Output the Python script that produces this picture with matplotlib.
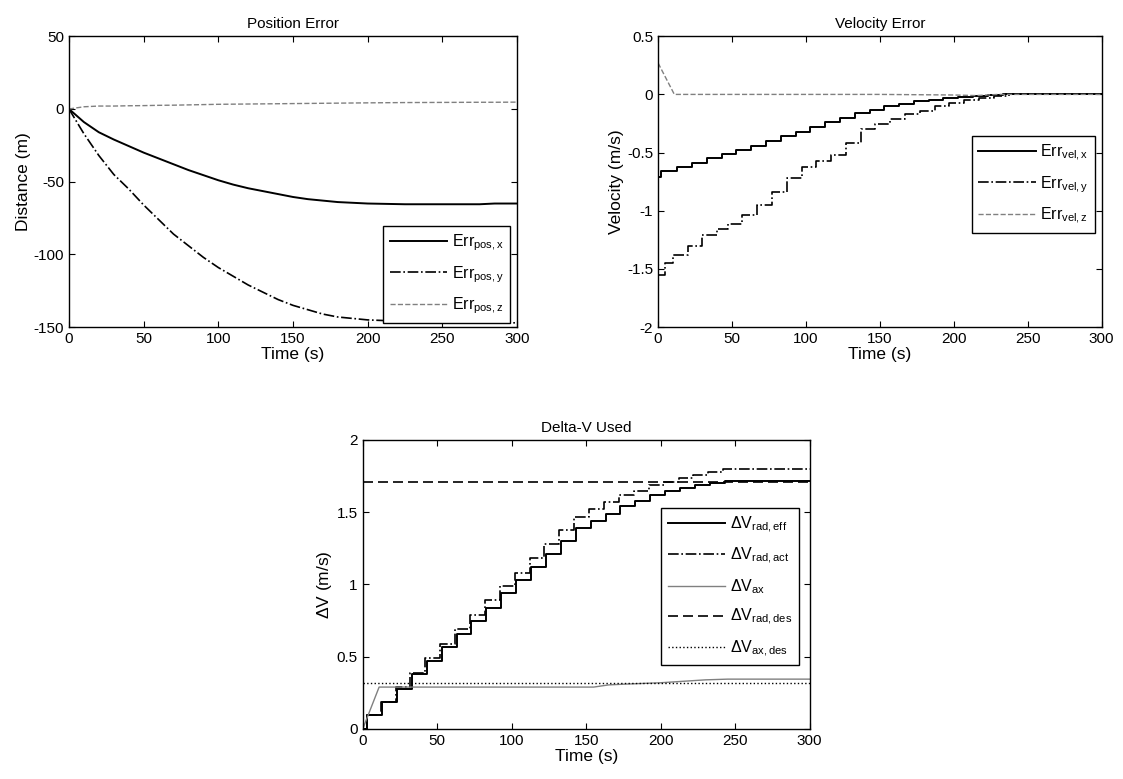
import numpy as np
import matplotlib
matplotlib.use('Agg')
import matplotlib.pyplot as plt

plt.rcParams['font.family'] = ['Liberation Sans', 'DejaVu Sans']
plt.rcParams['mathtext.fontset'] = 'custom'
plt.rcParams['mathtext.rm'] = 'Liberation Sans'
plt.rcParams['mathtext.it'] = 'Liberation Sans'
plt.rcParams['axes.unicode_minus'] = False
plt.rcParams['xtick.direction'] = 'in'
plt.rcParams['ytick.direction'] = 'in'
plt.rcParams['xtick.top'] = True
plt.rcParams['ytick.right'] = True

# Position error
t_pos = [0, 10, 20, 30, 40, 50, 60, 70, 80, 90, 100, 110, 120, 130, 140, 150,
         160, 170, 180, 190, 200, 225, 250, 275, 285, 300]
pos_x = [0, -9, -16, -21, -25.5, -30, -34, -38, -42, -45.5, -49, -52, -54.5, -56.5,
         -58.5, -60.5, -62, -63, -64, -64.5, -65, -65.5, -65.5, -65.5, -65, -65]
pos_y = [0, -17, -32, -45, -55, -66, -76, -86, -94, -102, -109, -115, -121, -126,
         -131, -135, -138, -141, -143, -144, -145, -146, -146.5, -147, -147, -147]
pos_z = [0, 1.5, 2, 2, 2.2, 2.3, 2.5, 2.6, 2.8, 3, 3.2, 3.3, 3.4, 3.5, 3.6, 3.7,
         3.8, 3.9, 4, 4.1, 4.2, 4.4, 4.5, 4.6, 4.6, 4.7]

# Velocity error (stepwise)
t_vx = [0, 2, 13, 23, 33, 43, 53, 63, 73, 83, 93, 103, 113, 123, 133, 143, 153,
        163, 173, 183, 193, 203, 213, 223, 233, 300]
vel_x = [-0.71, -0.66, -0.62, -0.59, -0.55, -0.51, -0.48, -0.44, -0.40, -0.36, -0.32,
         -0.28, -0.24, -0.20, -0.16, -0.13, -0.10, -0.08, -0.06, -0.045, -0.035,
         -0.025, -0.015, -0.008, 0, 0]
t_vy = [0, 5, 10, 20, 30, 40, 47, 57, 67, 77, 87, 97, 107, 117, 127, 137, 147, 157,
        167, 177, 187, 197, 207, 217, 227, 237, 300]
vel_y = [-1.55, -1.45, -1.38, -1.30, -1.21, -1.16, -1.11, -1.04, -0.95, -0.84, -0.72,
         -0.62, -0.57, -0.52, -0.42, -0.30, -0.25, -0.21, -0.17, -0.14, -0.10, -0.07,
         -0.05, -0.03, -0.01, 0, 0]
t_vz = [0, 11, 50, 100, 150, 200, 215, 230, 300]
vel_z = [0.27, 0, 0, 0, 0, -0.005, -0.01, 0, 0]

# Delta-V used
t_eff = [0, 3, 13, 23, 33, 43, 53, 63, 73, 83, 93, 103, 113, 123, 133, 143, 153, 163,
         173, 183, 193, 203, 213, 223, 233, 243, 300]
dv_eff = [0, 0.1, 0.19, 0.28, 0.38, 0.47, 0.57, 0.66, 0.75, 0.84, 0.94, 1.03, 1.12,
          1.21, 1.30, 1.39, 1.44, 1.49, 1.54, 1.58, 1.62, 1.645, 1.67, 1.69, 1.705,
          1.715, 1.715]
t_act = [0, 3, 12, 22, 32, 42, 52, 62, 72, 82, 92, 102, 112, 122, 132, 142, 152, 162,
         172, 182, 192, 202, 212, 222, 232, 242, 300]
dv_act = [0, 0.1, 0.19, 0.29, 0.39, 0.49, 0.59, 0.69, 0.79, 0.89, 0.99, 1.08, 1.18,
          1.28, 1.38, 1.47, 1.52, 1.57, 1.62, 1.65, 1.69, 1.71, 1.735, 1.76, 1.78,
          1.8, 1.8]
t_ax = [0, 11, 50, 100, 155, 165, 175, 200, 215, 230, 245, 300]
dv_ax = [0, 0.29, 0.29, 0.29, 0.29, 0.305, 0.31, 0.32, 0.33, 0.34, 0.345, 0.345]
t_des = [0, 300]
dv_rad_des = [1.71, 1.71]
dv_ax_des = [0.315, 0.315]

fig = plt.figure(figsize=(11.23, 7.79), dpi=100)
ax1 = fig.add_axes([0.0614, 0.580, 0.399, 0.3735])
ax2 = fig.add_axes([0.586, 0.580, 0.395, 0.3735])
ax3 = fig.add_axes([0.323, 0.0642, 0.398, 0.371])

tick_fs = 11
lab_fs = 12.5
leg_fs = 11.5
leg_kw = dict(fontsize=leg_fs, handlelength=3.6, labelspacing=0.7, fancybox=False,
              edgecolor='k', framealpha=1, borderaxespad=0, handletextpad=0.3)

ax1.plot(t_pos, pos_x, 'k-', lw=1.4, label=r'Err$_{\mathrm{pos,x}}$')
ax1.plot(t_pos, pos_y, 'k-.', lw=1.2, label=r'Err$_{\mathrm{pos,y}}$')
ax1.plot(t_pos, pos_z, '--', color='#808080', lw=1.0, label=r'Err$_{\mathrm{pos,z}}$')
ax1.set_xlim(0, 300)
ax1.set_ylim(-150, 50)
ax1.set_xticks(np.arange(0, 301, 50))
ax1.set_yticks(np.arange(-150, 51, 50))
ax1.set_title('Position Error', fontsize=tick_fs)
ax1.set_xlabel('Time (s)', fontsize=lab_fs, labelpad=1)
ax1.set_ylabel('Distance (m)', fontsize=lab_fs, labelpad=2)
ax1.legend(loc='lower right', bbox_to_anchor=(0.985, 0.015), **leg_kw)

ax2.plot(t_vx, vel_x, 'k-', lw=1.4, drawstyle='steps-post', label=r'Err$_{\mathrm{vel,x}}$')
ax2.plot(t_vy, vel_y, 'k-.', lw=1.2, drawstyle='steps-post', label=r'Err$_{\mathrm{vel,y}}$')
ax2.plot(t_vz, vel_z, '--', color='#808080', lw=1.0, label=r'Err$_{\mathrm{vel,z}}$')
ax2.set_xlim(0, 300)
ax2.set_ylim(-2, 0.5)
ax2.set_xticks(np.arange(0, 301, 50))
ax2.set_yticks([-2, -1.5, -1, -0.5, 0, 0.5])
ax2.set_yticklabels(['-2', '-1.5', '-1', '-0.5', '0', '0.5'])
ax2.set_title('Velocity Error', fontsize=tick_fs)
ax2.set_xlabel('Time (s)', fontsize=lab_fs, labelpad=1)
ax2.set_ylabel('Velocity (m/s)', fontsize=lab_fs, labelpad=2)
ax2.legend(loc='upper right', bbox_to_anchor=(0.985, 0.656), **leg_kw)

ax3.plot(t_eff, dv_eff, 'k-', lw=1.4, drawstyle='steps-post', label=r'$\Delta$V$_{\mathrm{rad,eff}}$')
ax3.plot(t_act, dv_act, 'k-.', lw=1.2, drawstyle='steps-post', label=r'$\Delta$V$_{\mathrm{rad,act}}$')
ax3.plot(t_ax, dv_ax, '-', color='#808080', lw=1.0, label=r'$\Delta$V$_{\mathrm{ax}}$')
ax3.plot(t_des, dv_rad_des, 'k--', lw=1.2, dashes=(6, 3), label=r'$\Delta$V$_{\mathrm{rad,des}}$')
ax3.plot(t_des, dv_ax_des, 'k:', lw=1.0, label=r'$\Delta$V$_{\mathrm{ax,des}}$')
ax3.set_xlim(0, 300)
ax3.set_ylim(0, 2)
ax3.set_xticks(np.arange(0, 301, 50))
ax3.set_yticks([0, 0.5, 1, 1.5, 2])
ax3.set_yticklabels(['0', '0.5', '1', '1.5', '2'])
ax3.set_title('Delta-V Used', fontsize=tick_fs)
ax3.set_xlabel('Time (s)', fontsize=lab_fs, labelpad=1)
ax3.set_ylabel(r'$\Delta$V (m/s)', fontsize=lab_fs, labelpad=2)
ax3.legend(loc='upper right', bbox_to_anchor=(0.975, 0.765), **leg_kw)

for a in (ax1, ax2, ax3):
    a.tick_params(labelsize=tick_fs, length=4, width=0.8)
    for s in a.spines.values():
        s.set_linewidth(1.0)

fig.savefig('out.png', dpi=100)
